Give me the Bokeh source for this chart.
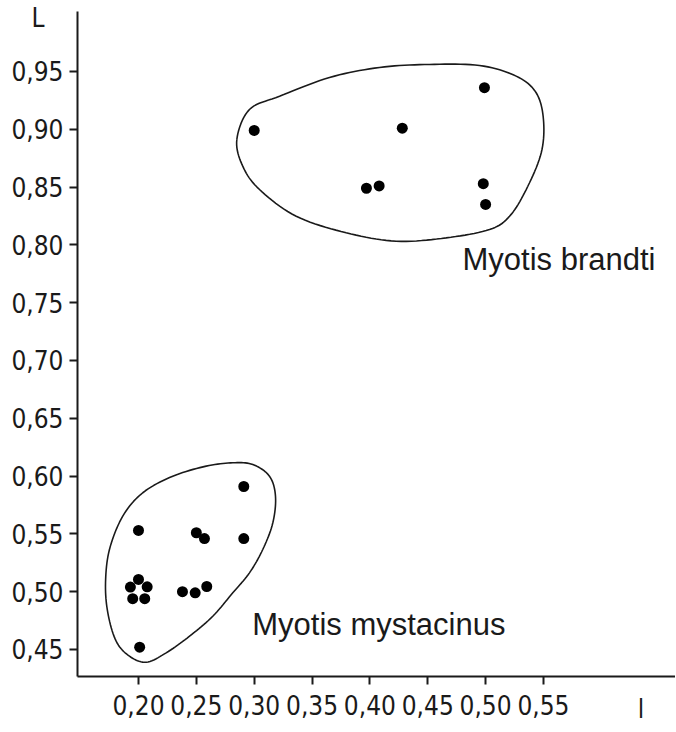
from bokeh.plotting import figure
from bokeh.models import FixedTicker, Label, Range1d, LinearAxis
from bokeh.embed import file_html
from bokeh.resources import INLINE

# ---- data ----
x_ticks = [0.20, 0.25, 0.30, 0.35, 0.40, 0.45, 0.50, 0.55]
x_tick_labels = ["0,20", "0,25", "0,30", "0,35", "0,40", "0,45", "0,50", "0,55"]
y_ticks = [0.45, 0.50, 0.55, 0.60, 0.65, 0.70, 0.75, 0.80, 0.85, 0.90, 0.95]
y_tick_labels = ["0,45", "0,50", "0,55", "0,60", "0,65", "0,70", "0,75", "0,80", "0,85", "0,90", "0,95"]
x_axis_name = "l"
y_axis_name = "L"
x_name_at = 0.6343
y_name_at = 0.9959

brandti_l = [0.300, 0.428, 0.397, 0.408, 0.499, 0.498, 0.500]
brandti_L = [0.899, 0.901, 0.849, 0.851, 0.936, 0.853, 0.835]

mystacinus_l = [0.291, 0.200, 0.250, 0.257, 0.291, 0.200, 0.193, 0.2075, 0.195, 0.2054, 0.238, 0.249, 0.259, 0.201]
mystacinus_L = [0.591, 0.553, 0.551, 0.546, 0.546, 0.5106, 0.504, 0.5042, 0.494, 0.494, 0.500, 0.499, 0.5045, 0.452]

# hand-drawn enclosing outlines
brandti_hull_l = [0.285, 0.2959, 0.3219, 0.3651, 0.4083, 0.4515, 0.4947, 0.5264, 0.5437, 0.5500,
                  0.5481, 0.5351, 0.5207, 0.5034, 0.4659, 0.4227, 0.3795, 0.3363, 0.3046, 0.2901]
brandti_hull_L = [0.8912, 0.9171, 0.9286, 0.9448, 0.9535, 0.9561, 0.9552, 0.9460, 0.9316, 0.9085,
                  0.8797, 0.8479, 0.8248, 0.8133, 0.8061, 0.8032, 0.8105, 0.8248, 0.8479, 0.8681]
mystacinus_hull_l = [0.2815, 0.2988, 0.3132, 0.3184, 0.3161, 0.3074, 0.2959, 0.2815, 0.2642, 0.2441,
                     0.2239, 0.2067, 0.1922, 0.1807, 0.1735, 0.1715, 0.1749, 0.1864, 0.2037, 0.2296, 0.2585]
mystacinus_hull_L = [0.6115, 0.6100, 0.5999, 0.5826, 0.5596, 0.5365, 0.5163, 0.4990, 0.4788, 0.4615,
                     0.4471, 0.4390, 0.4442, 0.4572, 0.4817, 0.5077, 0.5365, 0.5653, 0.5856, 0.5999, 0.6086]

species = ["Myotis brandti", "Myotis mystacinus"]
species_pos_l = [0.480, 0.2983]
species_pos_L = [0.7874, 0.4716]


def smooth_closed(xs, ys, steps=10):
    """Catmull-Rom smoothing of a closed hand-drawn outline."""
    n = len(xs)
    ox, oy = [], []
    for i in range(n):
        p0 = (xs[(i - 1) % n], ys[(i - 1) % n])
        p1 = (xs[i], ys[i])
        p2 = (xs[(i + 1) % n], ys[(i + 1) % n])
        p3 = (xs[(i + 2) % n], ys[(i + 2) % n])
        for s in range(steps):
            t = s / steps
            t2, t3 = t * t, t * t * t
            for k, out in ((0, ox), (1, oy)):
                out.append(0.5 * ((2 * p1[k]) + (-p0[k] + p2[k]) * t
                                  + (2 * p0[k] - 5 * p1[k] + 4 * p2[k] - p3[k]) * t2
                                  + (-p0[k] + 3 * p1[k] - 3 * p2[k] + p3[k]) * t3))
    ox.append(ox[0])
    oy.append(oy[0])
    return ox, oy


TICK_FONT = "DejaVu Sans Condensed"
TEXT_FONT = "Liberation Sans"
INK = "#1a1a1a"

p = figure(width=675, height=731, output_backend="svg", toolbar_location=None,
           x_range=Range1d(0.14728, 0.66413), y_range=Range1d(0.42664, 1.00190),
           min_border_left=77, min_border_right=0, min_border_top=11, min_border_bottom=55)
p.outline_line_color = None
p.xgrid.visible = False
p.ygrid.visible = False
p.background_fill_color = "white"
p.border_fill_color = "white"

for ax, ticks, labels in ((p.xaxis[0], x_ticks, x_tick_labels), (p.yaxis[0], y_ticks, y_tick_labels)):
    ax.ticker = FixedTicker(ticks=ticks)
    ax.minor_tick_line_color = None
    ax.major_label_overrides = {t: l for t, l in zip(ticks, labels)}
    ax.axis_line_width = 2
    ax.axis_line_color = INK
    ax.major_tick_line_color = INK
    ax.major_tick_line_width = 2
    ax.major_tick_in = 0
    ax.major_tick_out = 8
    ax.major_label_text_font = TICK_FONT
    ax.major_label_text_font_size = "26px"
    ax.major_label_text_color = INK
p.yaxis.major_label_standoff = 6
p.xaxis.major_label_standoff = 10

# axis names "l" and "L" as label-only axes (annotations in the frame get clipped)
name_x_axis = LinearAxis(ticker=FixedTicker(ticks=[x_name_at]),
                         major_label_overrides={x_name_at: x_axis_name},
                         axis_line_color=None, major_tick_line_color=None,
                         minor_tick_line_color=None, major_tick_in=0, major_tick_out=0,
                         major_label_standoff=-24, major_label_text_font=TICK_FONT,
                         major_label_text_font_size="26px", major_label_text_color=INK)
p.add_layout(name_x_axis, "below")
name_y_axis = LinearAxis(ticker=FixedTicker(ticks=[y_name_at]),
                         major_label_overrides={y_name_at: y_axis_name},
                         axis_line_color=None, major_tick_line_color=None,
                         minor_tick_line_color=None, major_tick_in=0, major_tick_out=0,
                         major_label_standoff=-36, major_label_text_font=TICK_FONT,
                         major_label_text_font_size="26px", major_label_text_color=INK)
p.add_layout(name_y_axis, "left")

for hl, hL in ((brandti_hull_l, brandti_hull_L), (mystacinus_hull_l, mystacinus_hull_L)):
    sx, sy = smooth_closed(hl, hL)
    p.line(sx, sy, line_color=INK, line_width=1.6)

p.scatter(brandti_l, brandti_L, size=11, fill_color="black", line_color=None)
p.scatter(mystacinus_l, mystacinus_L, size=11, fill_color="black", line_color=None)

for name, lx, ly in zip(species, species_pos_l, species_pos_L):
    p.add_layout(Label(x=lx, y=ly, text=name, text_font=TEXT_FONT, text_font_size="31px",
                       text_color=INK, text_baseline="alphabetic", text_align="left"))

open("out.html", "w").write(file_html(p, INLINE))
